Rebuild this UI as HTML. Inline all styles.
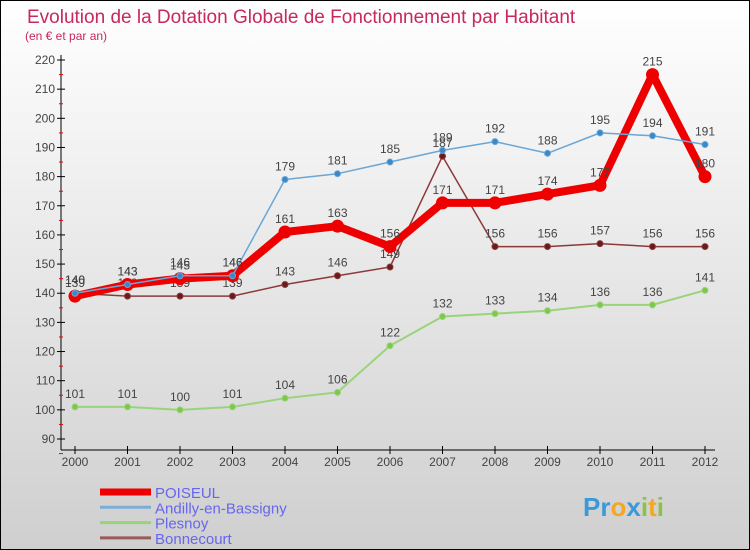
<!DOCTYPE html>
<html><head><meta charset="utf-8"><style>
body{margin:0;background:#fff}
svg{display:block;font-family:"Liberation Sans",sans-serif}
</style></head><body>
<svg width="750" height="550" xmlns="http://www.w3.org/2000/svg">
<defs><linearGradient id="bg" x1="0" y1="0" x2="0" y2="1"><stop offset="0" stop-color="#ffffff"/><stop offset="1" stop-color="#cfcfcf"/></linearGradient></defs>
<rect x="0.5" y="0.5" width="749" height="549" fill="url(#bg)" stroke="#000"/>
<text x="27" y="23" font-size="19" fill="#c8285a">Evolution de la Dotation Globale de Fonctionnement par Habitant</text>
<text x="25" y="40" font-size="12" fill="#c8285a">(en € et par an)</text>
<g id="axes"></g><g id="series"></g><g id="legend"></g>
<text x="583" y="516" font-size="26" font-weight="bold" fill="#3a9ad9">Pr<tspan fill="#f5a623">o</tspan><tspan fill="#3a9ad9">x</tspan><tspan fill="#8bc34a">i</tspan><tspan fill="#f5a623">t</tspan><tspan fill="#8bc34a">i</tspan></text>
</svg>
<script>
const years=[2000,2001,2002,2003,2004,2005,2006,2007,2008,2009,2010,2011,2012];
const poiseul=[139,143,145,146,161,163,156,171,171,174,177,215,180];
const andilly=[140,143,146,146,179,181,185,189,192,188,195,194,191];
const plesnoy=[101,101,100,101,104,106,122,132,133,134,136,136,141];
const bonnecourt=[140,139,139,139,143,146,149,187,156,156,157,156,156];
const yTicks=[90,100,110,120,130,140,150,160,170,180,190,200,210,220];
const NS="http://www.w3.org/2000/svg";
const X=i=>75+i*52.5, Y=v=>439-(v-90)*379/130;
function mk(t,a,p){const e=document.createElementNS(NS,t);for(const k in a)e.setAttribute(k,a[k]);p.appendChild(e);return e;}
const ax=document.getElementById('axes');
let l=mk('line',{x1:61,y1:55,x2:61,y2:450,stroke:'#000'},ax);


l=mk('line',{x1:61,y1:450,x2:715,y2:450,stroke:'#000'},ax);


yTicks.forEach(v=>{const y=Y(v);
 mk('line',{x1:57,y1:y,x2:65,y2:y,stroke:'#000'},ax);
 mk('line',{x1:59,y1:y+14.6,x2:63,y2:y+14.6,stroke:'#e00'},ax);
 const t=mk('text',{x:55,y:y+4,'font-size':12,fill:'#444','text-anchor':'end'},ax);t.textContent=v;
 
 });
years.forEach((yr,i)=>{mk('line',{x1:X(i),y1:446,x2:X(i),y2:454,stroke:'#000'},ax);
 const t=mk('text',{x:X(i),y:466,'font-size':12,fill:'#444','text-anchor':'middle'},ax);t.textContent=yr;
 
 });
const sg=document.getElementById('series');
function draw(vals,color,w,r,dot,name){
 const g=mk('g',{},sg);
 
 
 mk('polyline',{points:vals.map((v,i)=>X(i)+','+Y(v)).join(' '),fill:'none',stroke:color,'stroke-width':w,'stroke-linejoin':'round'},g);
 vals.forEach((v,i)=>{const c=mk('circle',{cx:X(i),cy:Y(v),r:r,fill:dot,stroke:color,'stroke-width':1},g);
  
  
  const t=mk('text',{x:X(i),y:Y(v)-9,'font-size':12,fill:'#444','text-anchor':'middle'},g);t.textContent=v;});
}
draw(plesnoy,'#99d47a',2,3,'#7cc84a','plesnoy');
draw(bonnecourt,'#8b3a3a',1.5,3,'#6b1a1a','bonnecourt');
draw(poiseul,'#ee0000',8,6,'#ee0000','poiseul');
draw(andilly,'#6aa6d6',1.5,3,'#3a88c8','andilly');
const lg=document.getElementById('legend');
[['POISEUL','#ee0000',7],['Andilly-en-Bassigny','#7aaed6',3],['Plesnoy','#99d47a',3],['Bonnecourt','#9a5a5a',3]].forEach((d,i)=>{
 const y=492+i*15.3;
 const g=mk('g',{},lg);
 
 
 mk('line',{x1:100,y1:y,x2:151,y2:y,stroke:d[1],'stroke-width':d[2]},g);
 const t=mk('text',{x:155,y:y+6,'font-size':15,fill:'#6666ee'},g);t.textContent=d[0];});
</script>
</body></html>
